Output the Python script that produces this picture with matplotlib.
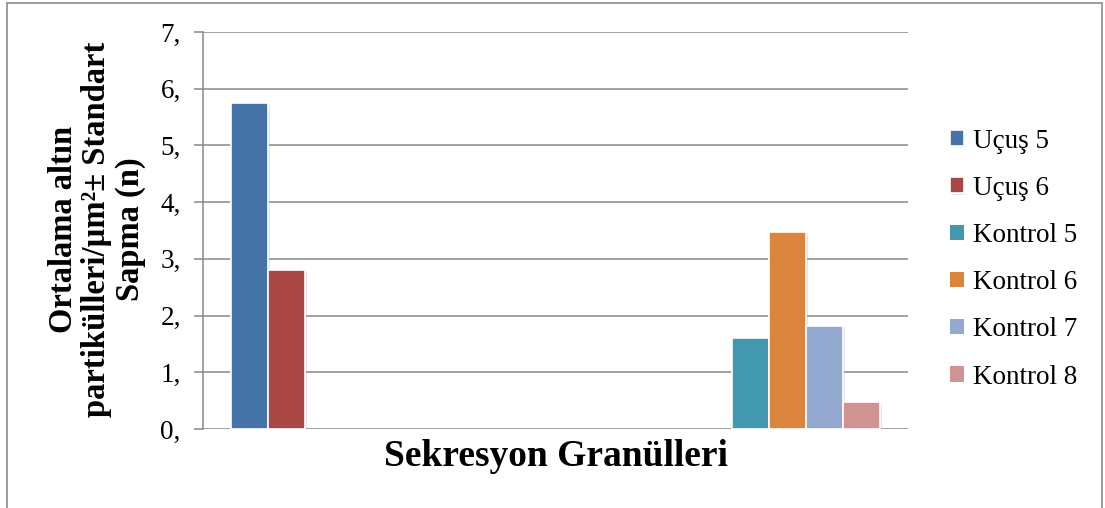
import matplotlib
matplotlib.use("Agg")
import matplotlib.pyplot as plt
import matplotlib.patheffects as pe
from matplotlib.patches import Rectangle
from matplotlib.ticker import FuncFormatter
import numpy as np

# Gold particle density per group (two categories on the x axis)
groups = ["Uçuş", "Kontrol"]
series = ["Uçuş 5", "Uçuş 6", "Kontrol 5", "Kontrol 6", "Kontrol 7", "Kontrol 8"]
values = {
    "Uçuş 5": [5.75, 0],
    "Uçuş 6": [2.80, 0],
    "Kontrol 5": [0, 1.61],
    "Kontrol 6": [0, 3.48],
    "Kontrol 7": [0, 1.82],
    "Kontrol 8": [0, 0.47],
}
colors = ["#4572A7", "#AA4643", "#4198AF", "#DB843D", "#93A9CF", "#D19392"]
yticks = [0, 1, 2, 3, 4, 5, 6, 7]

# the workbook holds 8 series slots; two of them are empty
n_slots = 8
slots = [0, 1, 4, 5, 6, 7]

serif = "Liberation Serif"

fig = plt.figure(figsize=(11.05, 5.08), dpi=100)
ax = fig.add_axes([0.1837, 0.1555, 0.638, 0.7815])

x = np.arange(len(groups))
width = 1 / (n_slots + 1.5)
shadow = [pe.SimplePatchShadow(offset=(1.2, -1.2), shadow_rgbFace="#b0b0b0", alpha=0.35), pe.Normal()]
for name, slot, c in zip(series, slots, colors):
    bars = ax.bar(x + (slot - (n_slots - 1) / 2) * width, values[name], width,
                  color=c, edgecolor="white", linewidth=1.2, label=name, zorder=3)
    for b in bars:
        if b.get_height() > 0:
            b.set_path_effects(shadow)
        else:
            # empty bar: no white outline over the baseline
            b.set_linewidth(0)

ax.set_xlim(-0.5, len(groups) - 0.5)
ax.set_ylim(0, 7)
ax.set_yticks(yticks)
ax.yaxis.set_major_formatter(FuncFormatter(lambda v, p: f"{int(v)},"))
ax.set_xticks([])
ax.grid(axis="y", color="#878787", linewidth=1.1, zorder=0)
for s in ["top", "right", "bottom"]:
    ax.spines[s].set_visible(False)
ax.spines["left"].set_color("#878787")
ax.spines["left"].set_linewidth(1.1)
ax.tick_params(axis="y", length=6.5, width=1.1, color="#878787", pad=9.5,
               labelsize=19.5)
for lab in ax.get_yticklabels():
    lab.set_fontfamily(serif)

fig.text(97 / 1105, 0.549,
         "Ortalama altın\npartikülleri/µm²± Standart\nSapma (n)",
         rotation=90, ha="center", va="center", multialignment="center",
         fontsize=23.5, fontweight="bold", family=serif, linespacing=1.12)
fig.text(556 / 1105, 1 - 456 / 508, "Sekresyon Granülleri",
         ha="center", va="center", fontsize=27, fontweight="bold", family=serif)

leg = ax.legend(loc="center left", bbox_to_anchor=(950 / 1105, 0.49),
                bbox_transform=fig.transFigure, frameon=False,
                prop={"family": serif, "size": 19.5}, handlelength=0.5,
                handleheight=0.5, handletextpad=0.35, labelspacing=0.82,
                borderpad=0, borderaxespad=0)

fig.patches.append(Rectangle((7 / 1105, -0.05), 1095 / 1105, 1.05 - 3 / 508,
                             transform=fig.transFigure, fill=False,
                             edgecolor="#8c8c8c", linewidth=1.2))

fig.savefig("out.png", dpi=100, facecolor="white")
